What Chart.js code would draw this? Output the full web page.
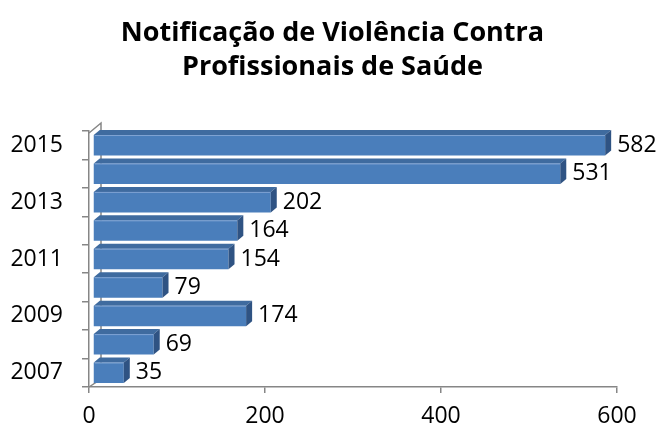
<!DOCTYPE html>
<html>
<head>
<meta charset="utf-8">
<script src="https://cdn.jsdelivr.net/npm/chart.js@4.4.1/dist/chart.umd.min.js"></script>
<style>
  html, body { margin: 0; padding: 0; background: #fff; }
  #wrap { width: 665px; height: 432px; }
</style>
</head>
<body>
<div id="wrap"><canvas id="barChart" width="665" height="432"></canvas></div>
<script>
// chart data
const years = ['2007', '2008', '2009', '2010', '2011', '2012', '2013', '2014', '2015'];
const notifications = [35, 69, 174, 79, 154, 164, 202, 531, 582];
const xTicks = [0, 200, 400, 600];
const titleLines = ['Notificação de Violência Contra', 'Profissionais de Saúde'];

const axisGray = '#868686';
const depthX = 6, depthY = 5; // fake 3d depth
const shiftX = 4; // bars sit a bit inside the wall

// back wall line + slants, drawn before the bars
const wallPlugin = {
  id: 'wall',
  beforeDatasetsDraw(chart) {
    const { ctx, chartArea } = chart;
    const l = chartArea.left, t = chartArea.top, b = chartArea.bottom;
    ctx.save();
    ctx.strokeStyle = axisGray;
    ctx.lineWidth = 1.5;
    ctx.beginPath();
    ctx.moveTo(l, t + 2);
    ctx.lineTo(l + 12, t - 8);
    ctx.lineTo(l + 12, b - 8);
    ctx.lineTo(l, b);
    ctx.stroke();
    ctx.restore();
  }
};

// shift front faces, then add top/right faces and the value labels
const bar3dPlugin = {
  id: 'bar3d',
  beforeDatasetsDraw(chart) {
    chart.ctx.save();
    chart.ctx.translate(shiftX, 0);
  },
  afterDatasetsDraw(chart) {
    const { ctx } = chart;
    const meta = chart.getDatasetMeta(0);
    meta.data.forEach((bar, i) => {
      const top = bar.y - bar.height / 2;
      const bottom = bar.y + bar.height / 2;
      const left = bar.base, right = bar.x;
      // top face
      ctx.fillStyle = '#3F6B9F';
      ctx.beginPath();
      ctx.moveTo(left, top);
      ctx.lineTo(left + depthX, top - depthY);
      ctx.lineTo(right + depthX, top - depthY);
      ctx.lineTo(right, top);
      ctx.closePath();
      ctx.fill();
      ctx.strokeStyle = '#7FA3D3';
      ctx.lineWidth = 1;
      ctx.beginPath();
      ctx.moveTo(left + 1, top + 0.5);
      ctx.lineTo(right, top + 0.5);
      ctx.stroke();
      // right face
      ctx.fillStyle = '#2F5383';
      ctx.beginPath();
      ctx.moveTo(right, top);
      ctx.lineTo(right + depthX, top - depthY);
      ctx.lineTo(right + depthX, bottom - depthY);
      ctx.lineTo(right, bottom);
      ctx.closePath();
      ctx.fill();
      // value label
      ctx.fillStyle = '#000';
      ctx.font = '23px "Open Sans"';
      ctx.textBaseline = 'middle';
      ctx.textAlign = 'left';
      ctx.fillText(String(notifications[i]), right + depthX + 6, bar.y);
    });
    ctx.restore();
  }
};

const ctx = document.getElementById('barChart').getContext('2d');
const chart = new Chart(ctx, {
  type: 'bar',
  data: {
    labels: years,
    datasets: [{
      data: notifications,
      backgroundColor: '#4A7EBB',
      borderWidth: 0,
      barPercentage: 0.72,
      categoryPercentage: 1
    }]
  },
  options: {
    indexAxis: 'y',
    responsive: false,
    animation: false,
    layout: { padding: 0 },
    plugins: {
      legend: { display: false },
      tooltip: { enabled: false },
      title: {
        display: true,
        text: titleLines,
        color: '#000',
        font: { family: 'Open Sans', size: 27, weight: 'bold', lineHeight: 1.26 },
        padding: { top: 16, bottom: 47 }
      }
    },
    scales: {
      x: {
        min: 0,
        max: 600,
        afterBuildTicks(scale) { scale.ticks = xTicks.map(v => ({ value: v })); },
        afterFit(scale) { scale.height = 45; },
        grid: { drawOnChartArea: false, tickLength: 6, color: axisGray, lineWidth: 1.5 },
        border: { color: axisGray, width: 1.5 },
        ticks: { color: '#000', font: { family: 'Open Sans', size: 23 }, padding: 10 }
      },
      y: {
        reverse: true,
        afterFit(scale) { scale.width = 89; },
        grid: { drawOnChartArea: false, offset: true, tickLength: 7, color: axisGray, lineWidth: 1.5 },
        border: { color: axisGray, width: 1.5 },
        ticks: {
          color: '#000',
          font: { family: 'Open Sans', size: 23 },
          padding: 19,
          autoSkip: false,
          callback: (val, i) => (i % 2 === 0 ? years[i] : '')
        }
      },
      // empty right-hand box, leaves room for the value labels
      yRight: {
        type: 'category',
        position: 'right',
        afterFit(scale) { scale.width = 48; },
        grid: { display: false },
        border: { display: false },
        ticks: { display: false }
      }
    }
  },
  plugins: [wallPlugin, bar3dPlugin]
});
</script>
</body>
</html>
